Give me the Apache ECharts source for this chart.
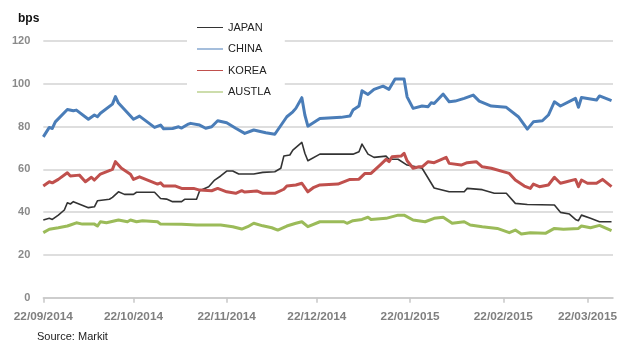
<!DOCTYPE html>
<html>
<head>
<meta charset="utf-8">
<script src="https://cdn.jsdelivr.net/npm/echarts@6/dist/echarts.min.js"></script>
<style>
  html, body { margin: 0; padding: 0; background: #ffffff; }
  #chart { width: 620px; height: 343px; }
</style>
</head>
<body>
<div id="chart"></div>
<script>
// 5-year CDS spreads (bps), Sep 2014 - Mar 2015
const seriesNames = ['JAPAN', 'CHINA', 'KOREA', 'AUSTLA'];
const seriesColors = ['#333333', '#4a7db8', '#c0504d', '#9bbb59'];

const axisStart = '2014-09-22';
const axisEnd = '2015-03-30T12:00';
const tickDates = ['2014-09-22', '2014-10-22', '2014-11-22', '2014-12-22',
                   '2015-01-22', '2015-02-22', '2015-03-22'];

const japanDates = ['2014-09-22','2014-09-24','2014-09-25','2014-09-27','2014-09-29','2014-09-30','2014-10-01','2014-10-02',
  '2014-10-07','2014-10-09','2014-10-10','2014-10-14','2014-10-15','2014-10-17','2014-10-19','2014-10-22','2014-10-23',
  '2014-10-29','2014-10-31','2014-11-02','2014-11-04','2014-11-07','2014-11-08','2014-11-12','2014-11-13','2014-11-16',
  '2014-11-18','2014-11-20','2014-11-22','2014-11-24','2014-11-26','2014-12-01','2014-12-04','2014-12-08','2014-12-10',
  '2014-12-11','2014-12-13','2014-12-14','2014-12-17','2014-12-18','2014-12-19','2014-12-23','2015-01-03','2015-01-05',
  '2015-01-06','2015-01-08','2015-01-10','2015-01-14','2015-01-15','2015-01-18','2015-01-21','2015-01-24','2015-01-26',
  '2015-01-30','2015-02-04','2015-02-09','2015-02-10','2015-02-15','2015-02-19','2015-02-23','2015-02-26','2015-03-02',
  '2015-03-11','2015-03-13','2015-03-16','2015-03-18','2015-03-19','2015-03-20','2015-03-23','2015-03-26','2015-03-30'];
const japanValues = [36.3,37.1,36.6,38.6,41.0,44.4,43.8,44.9,
  42.1,42.5,45.3,46.0,46.9,49.5,48.3,48.3,49.3,
  49.3,46.4,46.1,44.9,44.9,46.0,46.1,50.0,51.9,
  55.0,56.9,59.2,59.2,57.8,57.8,58.6,58.9,60.5,
  66.2,66.7,69.0,72.6,67.5,64.0,67.1,67.1,68.2,
  71.8,67.1,65.6,66.2,64.7,64.7,62.0,61.2,60.5,
  51.3,49.5,49.5,51.1,50.5,48.8,48.8,44.1,43.6,
  43.3,39.9,39.1,36.6,36.0,38.6,37.1,35.5,35.5];

const chinaDates = ['2014-09-22','2014-09-24','2014-09-25','2014-09-26','2014-09-30','2014-10-02','2014-10-03','2014-10-07',
  '2014-10-09','2014-10-10','2014-10-11','2014-10-15','2014-10-16','2014-10-17','2014-10-22','2014-10-24','2014-10-29',
  '2014-10-31','2014-11-01','2014-11-04','2014-11-06','2014-11-07','2014-11-09','2014-11-10','2014-11-13','2014-11-15',
  '2014-11-17','2014-11-19','2014-11-22','2014-11-25','2014-11-28','2014-12-01','2014-12-05','2014-12-08','2014-12-12',
  '2014-12-14','2014-12-15','2014-12-17','2014-12-18','2014-12-19','2014-12-23','2014-12-30','2015-01-02','2015-01-03',
  '2015-01-05','2015-01-06','2015-01-08','2015-01-10','2015-01-13','2015-01-15','2015-01-17','2015-01-20','2015-01-21',
  '2015-01-23','2015-01-26','2015-01-28','2015-01-29','2015-01-30','2015-02-02','2015-02-04','2015-02-06','2015-02-09',
  '2015-02-12','2015-02-14','2015-02-18','2015-02-23','2015-02-27','2015-03-02','2015-03-04','2015-03-07','2015-03-09',
  '2015-03-11','2015-03-13','2015-03-18','2015-03-19','2015-03-20','2015-03-25','2015-03-26','2015-03-30'];
const chinaValues = [75.2,79.6,79.1,82.2,88.0,87.4,87.7,83.4,
  85.4,84.6,86.2,90.5,94.0,91.0,83.4,84.9,79.6,
  80.7,79.0,79.1,79.9,79.3,81.0,81.5,80.7,79.2,
  79.9,82.7,81.8,79.2,76.8,78.4,77.1,76.4,84.6,
  86.9,88.5,93.5,85.4,80.2,83.8,84.3,84.9,87.7,
  89.6,96.7,95.0,97.4,98.9,97.4,102.2,102.2,93.9,
  88.5,89.6,89.3,91.1,90.8,95.2,91.6,91.9,93.2,
  94.7,91.9,89.6,89.0,84.6,78.8,82.2,82.7,85.4,
  91.6,89.6,93.2,89.0,93.6,92.4,94.3,92.1];

const koreaDates = ['2014-09-22','2014-09-24','2014-09-25','2014-09-27','2014-09-30','2014-10-01','2014-10-04','2014-10-06',
  '2014-10-08','2014-10-09','2014-10-11','2014-10-15','2014-10-16','2014-10-18','2014-10-21','2014-10-22','2014-10-24',
  '2014-10-30','2014-10-31','2014-11-01','2014-11-05','2014-11-07','2014-11-11','2014-11-13','2014-11-17','2014-11-19',
  '2014-11-22','2014-11-25','2014-11-27','2014-11-28','2014-12-02','2014-12-04','2014-12-08','2014-12-11','2014-12-12',
  '2014-12-15','2014-12-17','2014-12-19','2014-12-21','2014-12-23','2014-12-29','2015-01-02','2015-01-05','2015-01-07',
  '2015-01-09','2015-01-12','2015-01-14','2015-01-15','2015-01-16','2015-01-19','2015-01-20','2015-01-21','2015-01-23',
  '2015-01-25','2015-01-26','2015-01-28','2015-01-30','2015-02-03','2015-02-04','2015-02-08','2015-02-10','2015-02-13',
  '2015-02-15','2015-02-18','2015-02-24','2015-02-26','2015-03-01','2015-03-03','2015-03-04','2015-03-06','2015-03-09',
  '2015-03-11','2015-03-13','2015-03-15','2015-03-18','2015-03-19','2015-03-20','2015-03-22','2015-03-25','2015-03-27',
  '2015-03-30'];
const koreaValues = [52.2,54.2,53.7,55.3,58.4,56.9,57.3,54.2,
  56.3,55.0,57.8,60.0,63.6,60.5,57.7,55.3,56.5,
  53.1,53.7,52.2,52.2,51.1,51.1,50.3,50.0,51.1,
  49.5,48.8,50.0,49.4,49.9,48.8,48.8,50.7,52.2,
  52.7,53.5,49.5,51.6,52.7,53.1,55.3,55.4,58.1,
  58.1,62.0,64.7,63.6,65.9,66.2,67.5,64.0,60.5,
  61.2,61.2,63.6,63.1,65.6,62.8,62.0,63.1,63.6,
  61.2,60.5,58.1,55.0,52.2,51.1,53.1,51.9,52.7,
  56.3,53.5,54.2,55.3,51.9,55.0,53.5,53.5,55.3,
  51.9];

const austlaDates = ['2014-09-22','2014-09-24','2014-09-27','2014-09-30','2014-10-01','2014-10-03','2014-10-05','2014-10-09',
  '2014-10-10','2014-10-11','2014-10-13','2014-10-17','2014-10-20','2014-10-21','2014-10-23','2014-10-25','2014-10-30',
  '2014-10-31','2014-11-07','2014-11-12','2014-11-20','2014-11-24','2014-11-27','2014-11-29','2014-12-01','2014-12-04',
  '2014-12-07','2014-12-09','2014-12-12','2014-12-15','2014-12-17','2014-12-19','2014-12-23','2014-12-31','2015-01-01',
  '2015-01-03','2015-01-06','2015-01-08','2015-01-09','2015-01-14','2015-01-18','2015-01-20','2015-01-23','2015-01-27',
  '2015-01-30','2015-02-02','2015-02-05','2015-02-09','2015-02-11','2015-02-15','2015-02-20','2015-02-24','2015-02-26',
  '2015-02-28','2015-03-03','2015-03-08','2015-03-11','2015-03-14','2015-03-19','2015-03-20','2015-03-23','2015-03-26',
  '2015-03-30'];
const austlaValues = [30.4,32.0,32.7,33.5,34.0,35.0,34.4,34.4,
  33.5,35.5,35.0,36.3,35.5,36.3,35.5,36.0,35.5,
  34.4,34.3,34.0,34.0,33.2,32.1,33.2,34.8,33.6,
  32.7,31.6,33.5,34.8,35.5,33.2,35.5,35.5,34.8,
  36.0,36.6,37.6,36.6,37.1,38.6,38.6,36.3,35.5,
  37.1,37.6,34.8,35.5,34.0,33.2,32.4,30.4,31.6,
  29.8,30.4,30.1,32.4,32.0,32.4,33.5,32.7,33.8,
  31.3];

const yMin = 0, yMax = 120, yStep = 20;

const DAY_MS = 86400000;
function toTime(s) {
  const [d, t] = s.split('T');
  const [y, m, day] = d.split('-').map(Number);
  let h = 0, mi = 0;
  if (t) { [h, mi] = t.split(':').map(Number); }
  return Date.UTC(y, m - 1, day, h, mi);
}
const t0 = toTime(axisStart);
// the x axis runs in days elapsed since axisStart
function toDay(s) { return (toTime(s) - t0) / DAY_MS; }
function pad(n) { return (n < 10 ? '0' : '') + n; }
function fmtDay(v) {
  const dt = new Date(t0 + Math.round(v) * DAY_MS);
  return pad(dt.getUTCDate()) + '/' + pad(dt.getUTCMonth() + 1) + '/' + dt.getUTCFullYear();
}
function pairs(dates, values) {
  return dates.map((d, i) => [toDay(d), values[i]]);
}

const allDates = [japanDates, chinaDates, koreaDates, austlaDates];
const allValues = [japanValues, chinaValues, koreaValues, austlaValues];
const widths = [1.6, 3, 3, 3];
const tickDays = tickDates.map(toDay);

const chart = echarts.init(document.getElementById('chart'), null, { renderer: 'canvas' });

chart.setOption({
  animation: false,
  backgroundColor: '#ffffff',
  grid: { left: 43.3, right: 4.3, top: 41, bottom: 45.3, containLabel: false },
  legend: {
    orient: 'vertical',
    left: 187,
    top: 12,
    padding: [10, 14, 10, 10],
    backgroundColor: '#ffffff',
    itemWidth: 26,
    itemHeight: 1,
    itemGap: 10.5,
    icon: 'rect',
    data: seriesNames,
    textStyle: { fontFamily: 'Liberation Sans, Arial, sans-serif', fontSize: 11, color: '#222222' }
  },
  xAxis: {
    type: 'value',
    min: 0,
    max: toDay(axisEnd),
    axisLine: { show: true, lineStyle: { color: '#c8c8c8', width: 1.5 } },
    axisTick: { show: true, length: 5, customValues: tickDays, lineStyle: { color: '#c8c8c8', width: 1.5 } },
    axisLabel: {
      customValues: tickDays,
      formatter: fmtDay,
      margin: 13,
      color: '#7f7f7f',
      fontFamily: 'Liberation Sans, Arial, sans-serif',
      fontWeight: 'bold',
      fontSize: 11.8
    },
    splitLine: { show: false }
  },
  yAxis: {
    type: 'value',
    min: yMin,
    max: yMax,
    interval: yStep,
    axisLine: { show: false },
    axisTick: { show: false },
    axisLabel: {
      margin: 13,
      color: '#8a8a8a',
      fontFamily: 'Liberation Sans, Arial, sans-serif',
      fontWeight: 'bold',
      fontSize: 11
    },
    splitLine: { lineStyle: { color: '#d3d3d3', width: 1.5 } }
  },
  graphic: [
    { type: 'text', left: 18, top: 13,
      style: { text: 'bps', fill: '#111111', font: 'bold 12px "Liberation Sans", Arial, sans-serif' } },
    { type: 'text', left: 37, top: 331,
      style: { text: 'Source: Markit', fill: '#222222', font: '11px "Liberation Sans", Arial, sans-serif' } }
  ],
  series: seriesNames.map((name, i) => ({
    name: name,
    type: 'line',
    data: pairs(allDates[i], allValues[i]),
    showSymbol: false,
    symbol: 'none',
    smooth: false,
    color: seriesColors[i],
    lineStyle: { color: seriesColors[i], width: widths[i], join: 'round' },
    z: 2
  }))
});
</script>
</body>
</html>
